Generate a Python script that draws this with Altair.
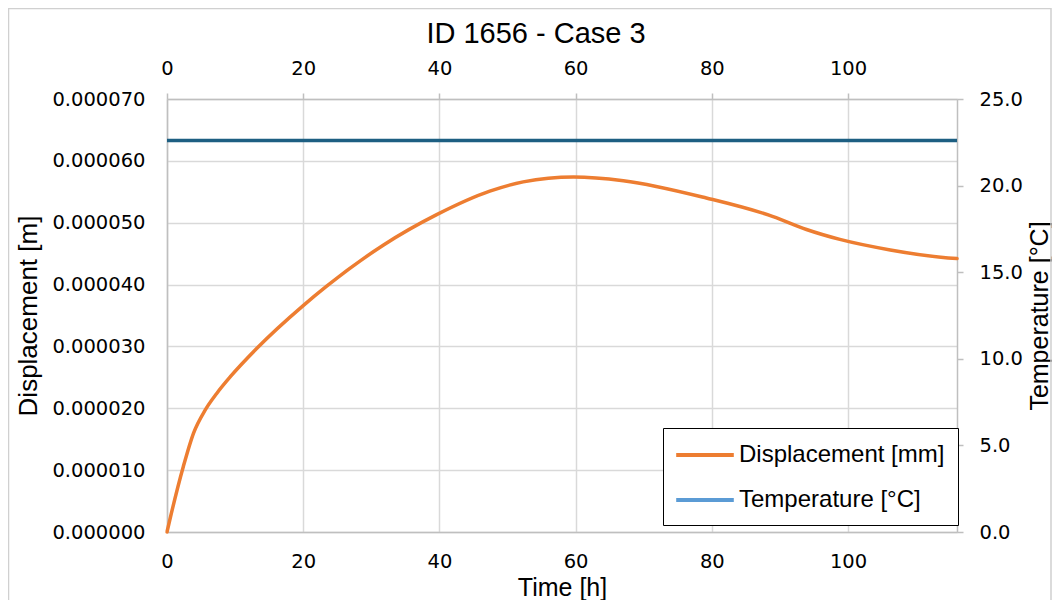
import altair as alt
import pandas as pd

# ---- data ----
time_h = [0, 0.4, 2.4, 3.9, 5.6, 7.3, 9.3, 13.2, 20.0, 23.4, 31.8, 39.6,
          47.4, 52.3, 59.7, 67.0, 79.2, 89.0, 93.9, 98.8, 106.2, 114.7, 116.0]
displacement_m = [0.0, 0.0000019, 0.0000106, 0.0000160, 0.0000197, 0.0000224,
                  0.0000251, 0.0000297, 0.0000366, 0.0000397, 0.0000464,
                  0.0000513, 0.0000551, 0.0000566, 0.0000574, 0.0000568,
                  0.0000540, 0.0000510, 0.0000489, 0.0000473, 0.0000456,
                  0.0000443, 0.0000442]
temp_time_h = [0, 116]
temperature_c = [22.6, 22.6]

series_names = ["Displacement [mm]", "Temperature [°C]"]
x_ticks = [0, 20, 40, 60, 80, 100]
y_left_ticks = [0, 0.00001, 0.00002, 0.00003, 0.00004, 0.00005, 0.00006, 0.00007]
y_right_ticks = [0, 5, 10, 15, 20, 25]

ORANGE = "#ED7D31"
DARK_BLUE = "#1D5F82"
LIGHT_BLUE = "#5B9BD5"
AXIS_GRAY = "#bfbfbf"
GRID_GRAY = "#d9d9d9"
LABEL_FONT = "DejaVu Sans"
TITLE_FONT = "Liberation Sans"

df_disp = pd.DataFrame({"time": time_h, "disp": displacement_m,
                        "series": [series_names[0]] * len(time_h)})
df_temp = pd.DataFrame({"time": temp_time_h, "temp": temperature_c})

W, H = 790, 433

common_axis = dict(labelFont=LABEL_FONT, labelFontSize=19.5, labelColor="#000000",
                   titleFont=TITLE_FONT, titleFontWeight="normal", titleColor="#000000",
                   domainColor=AXIS_GRAY, domainWidth=1.5, tickColor=AXIS_GRAY,
                   tickWidth=1.5, gridColor=GRID_GRAY, gridWidth=1.5)

disp_layer = alt.Chart(df_disp).mark_line(
    strokeWidth=3.5, strokeCap="round", interpolate="monotone"
).encode(
    x=alt.X("time:Q", scale=alt.Scale(domain=[0, 116], nice=False, zero=False),
            axis=alt.Axis(orient="bottom", values=x_ticks, title="Time [h]", grid=True,
                          ticks=False, tickSize=0, labelPadding=20, labelFlush=False,
                          titleFontSize=25, titlePadding=5, **common_axis)),
    y=alt.Y("disp:Q", scale=alt.Scale(domain=[0, 0.00007], nice=False),
            axis=alt.Axis(orient="left", values=y_left_ticks, format=".6f", grid=True,
                          ticks=False, tickSize=0, labelPadding=22,
                          title="Displacement [m]", titleFontSize=26, titlePadding=10,
                          **common_axis)),
    color=alt.Color("series:N",
                    scale=alt.Scale(domain=series_names, range=[ORANGE, LIGHT_BLUE]),
                    legend=alt.Legend(orient="none", legendX=496, legendY=329, title=None,
                                      symbolType="M-2.4,0H2.4", symbolSize=576,
                                      symbolStrokeWidth=4, symbolOffset=15,
                                      labelFont=TITLE_FONT, labelLimit=400,
                                      labelFontSize=24, labelColor="#000000",
                                      labelOffset=20, rowPadding=19, padding=13,
                                      strokeColor="#000000", fillColor="#ffffff")),
)

temp_layer = alt.Chart(df_temp).mark_line(
    strokeWidth=3.5, color=DARK_BLUE
).encode(
    x=alt.X("time:Q", scale=alt.Scale(domain=[0, 116], nice=False, zero=False),
            axis=alt.Axis(orient="top", values=x_ticks, title=None, grid=False,
                          ticks=True, tickSize=6, labelPadding=15, labelFlush=False,
                          **common_axis)),
    y=alt.Y("temp:Q", scale=alt.Scale(domain=[0, 25], nice=False),
            axis=alt.Axis(orient="right", values=y_right_ticks, format=".1f", grid=False,
                          ticks=True, tickSize=6, labelPadding=16,
                          title="Temperature [°C]", titleFontSize=25, titleAngle=270,
                          titleBaseline="top", titlePadding=5, **common_axis)),
)

frame = alt.Chart(alt.Data(values=[{"k": 1}])).mark_rect(
    fillOpacity=0, stroke="#d0d0d0", strokeWidth=1.5, clip=False
).encode(
    x=alt.value(-158.5), x2=alt.value(884), y=alt.value(-90.5), y2=alt.value(600)
)

chart = alt.layer(frame, disp_layer, temp_layer).resolve_scale(
    x="independent", y="independent", color="independent"
).properties(
    width=W, height=H,
    title=alt.TitleParams("ID 1656 - Case 3", font=TITLE_FONT, fontSize=29,
                          fontWeight="normal", color="#000000", anchor="middle",
                          dx=-26, offset=-64, baseline="alphabetic"),
    autosize=alt.AutoSizeParams(type="none"),
    padding={"left": 159, "top": 91, "right": 95, "bottom": 68},
).configure_view(strokeWidth=0).configure_legend(strokeWidth=2).configure(background="#ffffff")

chart.save("out.html", embed_options={"renderer": "svg", "actions": False})
